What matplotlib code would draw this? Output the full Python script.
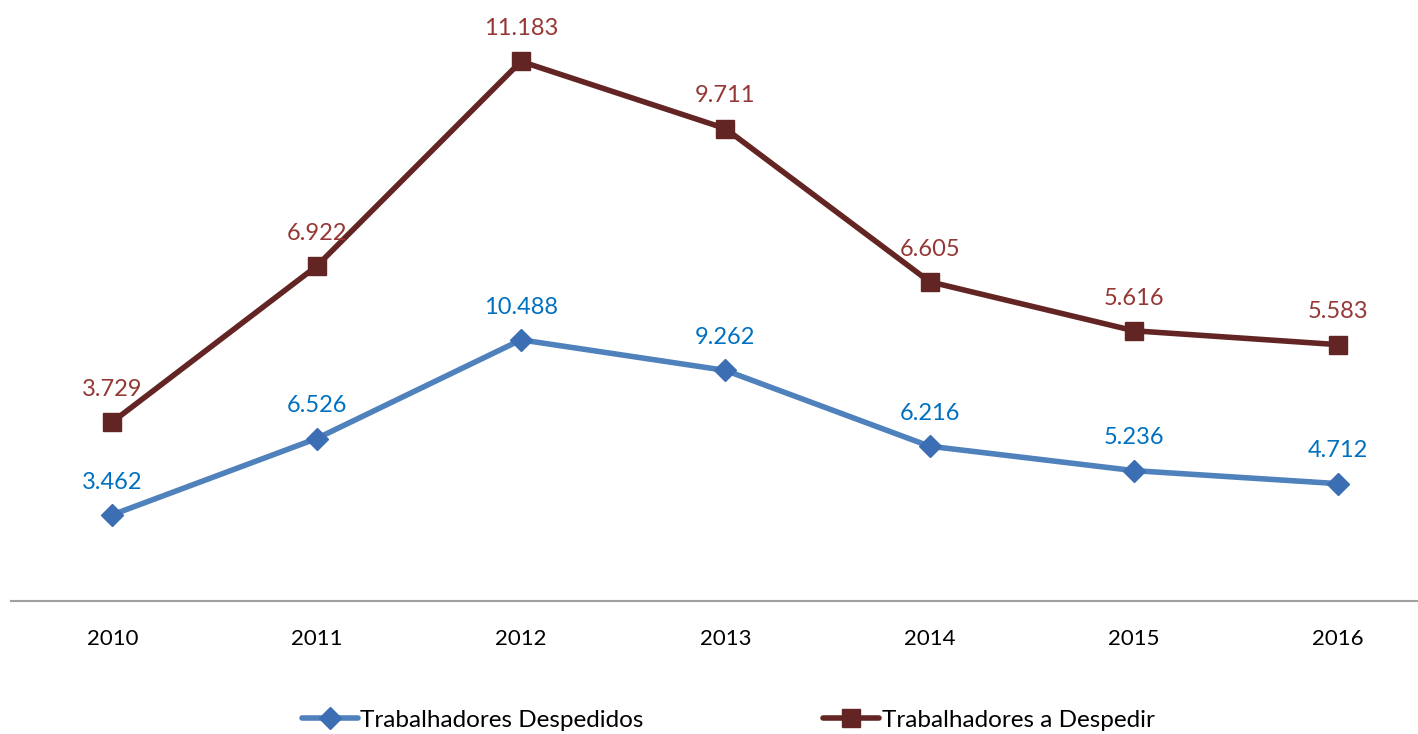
import matplotlib.pyplot as plt

plt.rcParams['font.family'] = ['Lato', 'DejaVu Sans']

years = ['2010', '2011', '2012', '2013', '2014', '2015', '2016']
despedidos = [3.462, 6.526, 10.488, 9.262, 6.216, 5.236, 4.712]
a_despedir = [3.729, 6.922, 11.183, 9.711, 6.605, 5.616, 5.583]
labels_desp = ['3.462', '6.526', '10.488', '9.262', '6.216', '5.236', '4.712']
labels_adesp = ['3.729', '6.922', '11.183', '9.711', '6.605', '5.616', '5.583']

BLUE_LINE = '#4F81BD'
BLUE_MARK = '#3C6EB4'
BLUE_TEXT = '#0070C0'
RED_LINE = '#632523'
RED_TEXT = '#953735'

# stacked line chart: second series sits on top of the first
stacked = [d + a for d, a in zip(despedidos, a_despedir)]

fig = plt.figure(figsize=(14.18, 7.34), dpi=100)
# y scale: 0 at px 601, ~24.9 px per unit
ax = fig.add_axes([11 / 1418, (734 - 601) / 734, 1 - 11 / 1418, 597.6 / 734])

x = list(range(len(years)))
ax.plot(x, despedidos, color=BLUE_LINE, lw=4, marker='D', ms=11,
        mfc=BLUE_MARK, mec=BLUE_MARK, solid_capstyle='round',
        label='Trabalhadores Despedidos', zorder=3)
ax.plot(x, stacked, color=RED_LINE, lw=4, marker='s', ms=13.5,
        mfc=RED_LINE, mec=RED_LINE, solid_capstyle='round',
        label='Trabalhadores a Despedir', zorder=3)

for i in x:
    ax.annotate(labels_desp[i], (i, despedidos[i]), xytext=(0, 16),
                textcoords='offset points', ha='center', va='bottom',
                color=BLUE_TEXT, fontsize=17)
    ax.annotate(labels_adesp[i], (i, stacked[i]), xytext=(0, 16),
                textcoords='offset points', ha='center', va='bottom',
                color=RED_TEXT, fontsize=17)

# x positions: 2010 at px 112, 2016 at px 1338
ax.set_xlim(-0.496, 6.39)
ax.set_ylim(0, 24)
ax.set_xticks(x)
ax.set_xticklabels(years, fontsize=16)
ax.tick_params(axis='x', length=0, pad=20)
ax.set_yticks([])
for s in ['top', 'right', 'left']:
    ax.spines[s].set_visible(False)
ax.spines['bottom'].set_color('#A0A0A0')
ax.spines['bottom'].set_linewidth(1.5)
ax.patch.set_alpha(0)

fig.legend(loc='center', bbox_to_anchor=(728 / 1418, 1 - 720 / 734), ncol=2,
           frameon=False, fontsize=17.5, handlelength=2.3, handletextpad=0.1,
           columnspacing=7.4)

fig.savefig('out.png', dpi=100)
